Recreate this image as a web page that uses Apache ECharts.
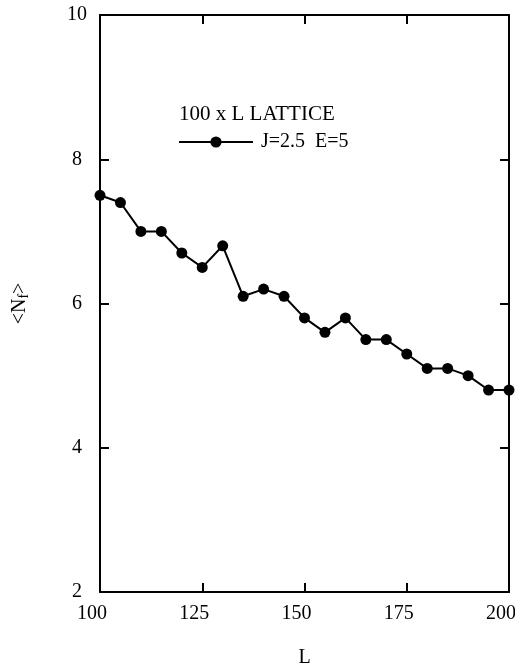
<!DOCTYPE html>
<html>
<head>
<meta charset="utf-8">
<style>
html,body{margin:0;padding:0;background:#fff;}
#chart{width:515px;height:668px;}
</style>
<script src="https://cdn.jsdelivr.net/npm/echarts@6/dist/echarts.min.js"></script>
</head>
<body>
<div id="chart"></div>
<script>
// Data
const lValues = [100,105,110,115,120,125,130,135,140,145,150,155,160,165,170,175,180,185,190,195,200];
const nfValues = [7.5,7.4,7.0,7.0,6.7,6.5,6.8,6.1,6.2,6.1,5.8,5.6,5.8,5.5,5.5,5.3,5.1,5.1,5.0,4.8,4.8];
const seriesName = 'J=2.5  E=5';
const titleText = '100 x L LATTICE';
const xTicks = [100,125,150,175,200];
const yTicks = [2,4,6,8,10];

const FONT = '"Liberation Serif", "Times New Roman", serif';
const chart = echarts.init(document.getElementById('chart'));

const baseAxisLine = {show:true, lineStyle:{color:'#000', width:2}};
const tickIn = {show:true, inside:true, length:9, lineStyle:{color:'#000', width:2}};

const option = {
  backgroundColor:'#fff',
  animation:false,
  title:{
    text:titleText,
    left:179, top:104, padding:0,
    textStyle:{fontFamily:FONT, fontSize:21, fontWeight:'normal', color:'#000'}
  },
  legend:{
    data:[seriesName],
    left:178, top:132, padding:0,
    itemWidth:74, itemHeight:14,
    textStyle:{fontFamily:FONT, fontSize:20, color:'#000', padding:[0,0,0,3]}
  },
  grid:{left:100, right:6, top:15, bottom:76, containLabel:false, outerBoundsMode:'none'},
  xAxis:[{
    type:'value', min:xTicks[0], max:xTicks[xTicks.length-1], interval:25,
    axisLine:baseAxisLine, axisTick:tickIn, splitLine:{show:false},
    axisLabel:{fontFamily:FONT, fontSize:20, color:'#000', margin:12, padding:[0,16,0,0]},
    name:'L', nameLocation:'middle', nameGap:56,
    nameTextStyle:{fontFamily:FONT, fontSize:20, color:'#000'}
  },{
    type:'value', position:'top', min:xTicks[0], max:xTicks[xTicks.length-1], interval:25,
    axisLine:baseAxisLine, axisTick:tickIn, splitLine:{show:false}, axisLabel:{show:false}
  }],
  yAxis:[{
    type:'value', min:yTicks[0], max:yTicks[yTicks.length-1], interval:2,
    axisLine:baseAxisLine, axisTick:tickIn, splitLine:{show:false},
    axisLabel:{fontFamily:FONT, fontSize:20, color:'#000', margin:23, align:'center'},
    name:'{a|<N}{b|f}{a|>}', nameLocation:'middle', nameGap:68,
    nameTextStyle:{
      rich:{
        a:{fontFamily:FONT, fontSize:20, color:'#000', lineHeight:24},
        b:{fontFamily:FONT, fontSize:14, color:'#000', lineHeight:24, padding:[8,0,0,0]}
      }
    }
  },{
    type:'value', position:'right', min:yTicks[0], max:yTicks[yTicks.length-1], interval:2,
    axisLine:baseAxisLine, axisTick:tickIn, splitLine:{show:false}, axisLabel:{show:false}
  }],
  series:[{
    name:seriesName,
    type:'line',
    data:lValues.map((x,i)=>[x, nfValues[i]]),
    symbol:'circle', symbolSize:11,
    lineStyle:{color:'#000', width:2},
    itemStyle:{color:'#000'},
    clip:false
  }]
};
chart.setOption(option);
</script>
</body>
</html>
